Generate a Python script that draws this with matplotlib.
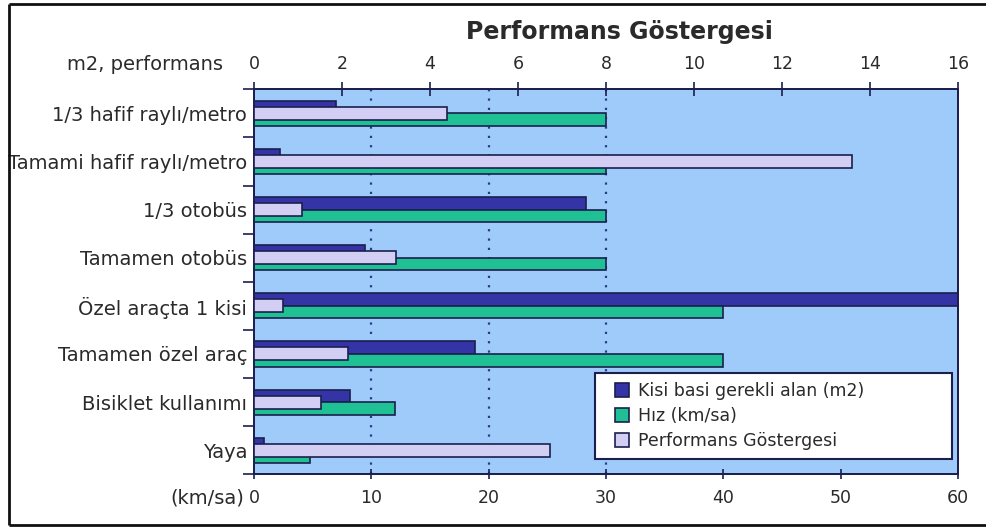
import matplotlib
matplotlib.use("Agg")
import matplotlib.pyplot as plt
import numpy as np
from matplotlib.lines import Line2D
from matplotlib.patches import Patch, Rectangle
from matplotlib.legend_handler import HandlerPatch

# Data
categories = [
    "1/3 hafif raylı/metro",
    "Tamami hafif raylı/metro",
    "1/3 otobüs",
    "Tamamen otobüs",
    "Özel araçta 1 kisi",
    "Tamamen özel araç",
    "Bisiklet kullanımı",
    "Yaya",
]
area_m2 = [7.0, 2.2, 28.3, 9.5, 60.0, 18.8, 8.2, 0.85]      # Kisi basi gerekli alan (m2)
speed_kmh = [30, 30, 30, 30, 40, 40, 12, 4.8]               # Hız (km/sa)
performance = [4.38, 13.6, 1.1, 3.22, 0.66, 2.13, 1.52, 6.72]  # Performans Göstergesi

bottom_ticks = [0, 10, 20, 30, 40, 50, 60]
top_ticks = [0, 2, 4, 6, 8, 10, 12, 14, 16]
grid_at = [10, 20, 30]

legend_labels = ["Kisi basi gerekli alan (m2)", "Hız (km/sa)", "Performans Göstergesi"]

# Style
BG = "#9FCBFA"
DARK = "#3434A6"
GREEN = "#1FC093"
LAV = "#D2CEF4"
EDGE = "#1C1F4E"
TXT = "#2a2a2a"

W, H = 986, 529
fig = plt.figure(figsize=(W / 100, H / 100), dpi=100)
fig.patch.set_facecolor("white")

x0, x1, ytop, ybot = 254, 958, 89.3, 474.3
ax = fig.add_axes([x0 / W, 1 - ybot / H, (x1 - x0) / W, (ybot - ytop) / H])
ax.set_facecolor(BG)

y = np.arange(len(categories))
h = 0.262
ax.barh(y - h / 2, area_m2, height=h, color=DARK, edgecolor=EDGE, linewidth=1.2, zorder=3)
ax.barh(y + h / 2, speed_kmh, height=h, color=GREEN, edgecolor=EDGE, linewidth=1.2, zorder=3)
for g in grid_at:
    ax.axvline(g, color="#2B3A86", linestyle=(0, (1, 3.2)), linewidth=1.6, zorder=1)

ax.set_xlim(0, 60)
ax.set_ylim(len(categories) - 0.5, -0.5)
ax.set_xticks(bottom_ticks)
ax.set_xticklabels([str(t) for t in bottom_ticks], fontsize=12.5, color=TXT)
ax.tick_params(axis="x", direction="inout", length=7, width=1.2, color=EDGE, pad=7)

ax.set_yticks(y)
ax.set_yticklabels(categories, fontsize=14, color=TXT)
ax.set_yticks(np.arange(-0.5, len(categories), 1.0), minor=True)
ax.tick_params(axis="y", which="major", length=0, pad=5)
ax.tick_params(axis="y", which="minor", direction="out", length=8, width=1.2, color=EDGE)

for s in ax.spines.values():
    s.set_color(EDGE)
    s.set_linewidth(1.3)

ax2 = ax.twiny()
ax2.barh(y, performance, height=0.27, color=LAV, edgecolor=EDGE, linewidth=1.2, zorder=3)
ax2.set_xlim(0, 16)
ax2.set_xticks(top_ticks)
ax2.set_xticklabels([str(t) for t in top_ticks], fontsize=12.5, color=TXT)
ax2.tick_params(axis="x", direction="inout", length=10, width=1.2, color=EDGE, pad=7)
for s in ax2.spines.values():
    s.set_color(EDGE)
    s.set_linewidth(1.3)


# Legend: small square keys sitting at the right of a wider handle box
def square_key(legend, orig_handle, xdescent, ydescent, width, height, fontsize):
    side = 0.8 * fontsize
    return Rectangle((width - side - xdescent, (height - side) / 2 - ydescent), side, side)


handles = [
    Patch(facecolor=DARK, edgecolor=EDGE, linewidth=1.2),
    Patch(facecolor=GREEN, edgecolor=EDGE, linewidth=1.2),
    Patch(facecolor=LAV, edgecolor=EDGE, linewidth=1.2),
]
lx0 = (595 - x0) / (x1 - x0)
lx1 = (952 - x0) / (x1 - x0)
ly_top = (ybot - 373) / (ybot - ytop)
leg = ax2.legend(
    handles, legend_labels,
    loc="upper left", bbox_to_anchor=(lx0, ly_top, lx1 - lx0, 0.0), mode="expand",
    bbox_transform=ax.transAxes, fontsize=12.5, frameon=True, fancybox=False,
    framealpha=1, edgecolor=EDGE, handlelength=1.45, handleheight=0.8,
    handletextpad=0.55, labelspacing=0.42, borderpad=0.5, borderaxespad=0,
    handler_map={Patch: HandlerPatch(patch_func=square_key)},
)
leg.get_frame().set_linewidth(1.5)
for t in leg.get_texts():
    t.set_color(TXT)

# Titles and axis captions
fig.text(619 / W, 1 - 32 / H, "Performans Göstergesi", ha="center", va="center",
         fontsize=17, fontweight="bold", color=TXT)
fig.text(223 / W, 1 - 64 / H, "m2, performans", ha="right", va="center", fontsize=14, color=TXT)
fig.text(244 / W, 1 - 498 / H, "(km/sa)", ha="right", va="center", fontsize=14, color=TXT)

# Outer frame (open on the right)
frame_kw = dict(color="#111111", linewidth=2, transform=fig.transFigure, solid_capstyle="butt")
fig.add_artist(Line2D([9 / W, 1.0], [1 - 4 / H, 1 - 4 / H], **frame_kw))
fig.add_artist(Line2D([9 / W, 1.0], [1 - 525 / H, 1 - 525 / H], **frame_kw))
fig.add_artist(Line2D([9 / W, 9 / W], [1 - 4 / H, 1 - 525 / H], **frame_kw))

fig.savefig("out.png", dpi=100)
